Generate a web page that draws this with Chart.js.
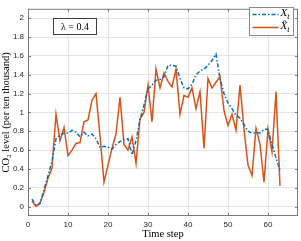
<!DOCTYPE html>
<html>
<head>
<meta charset="utf-8">
<script src="https://cdn.jsdelivr.net/npm/chart.js@4.4.0/dist/chart.umd.min.js"></script>
<style>
html, body { margin: 0; padding: 0; background: #fff; }
#wrap { width: 301px; height: 241px; }
</style>
</head>
<body>
<div id="wrap"><canvas id="co2Chart" width="301" height="241"></canvas></div>
<script>
var timeSteps = [1,2,3,4,5,6,7,8,9,10,11,12,13,14,15,16,17,18,19,20,21,22,23,24,25,26,27,28,29,30,
  31,32,33,34,35,36,37,38,39,40,41,42,43,44,45,46,47,48,49,50,51,52,53,54,55,56,57,58,59,60,61,62,63];

// X_t
var actualLevel = [0.08,0.01,0.03,0.18,0.33,0.48,0.72,0.76,0.78,0.78,
  0.81,0.79,0.74,0.79,0.75,0.77,0.72,0.63,0.64,0.63,
  0.61,0.66,0.69,0.71,0.72,0.55,0.70,0.92,1.08,1.25,
  1.29,1.34,1.35,1.38,1.50,1.50,1.49,1.36,1.26,1.25,
  1.30,1.40,1.44,1.46,1.50,1.55,1.62,1.36,1.20,1.10,
  1.04,0.97,0.94,0.87,0.80,0.78,0.78,0.78,0.82,0.82,
  0.66,0.52,0.38];

// X hat _t
var predictedLevel = [0.06,0.00,0.04,0.15,0.30,0.41,0.98,0.70,0.84,0.54,
  0.60,0.67,0.68,0.90,0.92,1.13,1.20,0.75,0.26,0.44,
  0.62,0.77,1.16,0.66,0.60,0.74,0.46,0.93,1.00,1.29,
  0.90,1.46,1.26,1.42,1.33,1.27,1.46,0.98,1.18,1.16,
  1.26,1.04,1.22,0.62,1.36,1.26,1.32,1.38,1.02,0.86,
  0.98,0.81,1.29,0.82,0.44,0.33,0.83,0.66,0.26,0.82,
  0.58,1.22,0.22];

var xTicks = [0,10,20,30,40,50,60];
var yTicks = [0,0.2,0.4,0.6,0.8,1,1.2,1.4,1.6,1.8,2];
var yTickLabels = ['0','0.2','0.4','0.6','0.8','1','1.2','1.4','1.6','1.8','2'];
var lambdaText = '\u03bb = 0.4';

var blue = '#0072BD';
var orange = '#D95319';

var toPoints = function(vals){
  return timeSteps.map(function(t, i){ return {x: t, y: vals[i]}; });
};

var drawSubLabel = function(ctx, x, y, main, sub){
  ctx.font = 'italic 11px "Liberation Serif"';
  ctx.fillText(main, x, y);
  var w = ctx.measureText('X').width;
  ctx.font = 'italic 8px "Liberation Serif"';
  ctx.fillText(sub, x + w, y + 3);
};

var framePlugin = {
  id: 'frame',
  afterDatasetsDraw: function(chart){
    var ctx = chart.ctx, a = chart.chartArea;
    var xs = chart.scales.x, ys = chart.scales.y;
    ctx.save();
    // axes box
    ctx.strokeStyle = '#7a7a7a';
    ctx.lineWidth = 1;
    ctx.strokeRect(a.left + 0.5, a.top + 0.5, a.right - a.left - 1, a.bottom - a.top - 1);
    // inward ticks on all sides
    ctx.beginPath();
    xTicks.forEach(function(v){
      var px = Math.round(xs.getPixelForValue(v)) + 0.5;
      ctx.moveTo(px, a.bottom); ctx.lineTo(px, a.bottom - 3);
      ctx.moveTo(px, a.top); ctx.lineTo(px, a.top + 3);
    });
    yTicks.forEach(function(v){
      var py = Math.round(ys.getPixelForValue(v)) + 0.5;
      ctx.moveTo(a.left, py); ctx.lineTo(a.left + 3, py);
      ctx.moveTo(a.right, py); ctx.lineTo(a.right - 3, py);
    });
    ctx.stroke();

    // lambda annotation
    ctx.fillStyle = '#fff';
    ctx.fillRect(53.5, 18.5, 43, 16);
    ctx.strokeStyle = '#404040';
    ctx.strokeRect(53.5, 18.5, 43, 16);
    ctx.fillStyle = '#000';
    ctx.font = '10px "Liberation Serif"';
    ctx.textAlign = 'center';
    ctx.textBaseline = 'middle';
    ctx.fillText(lambdaText, 75, 27);

    // legend
    var lx = a.right - 48.5, ly = 7.5, lw = 44, lh = 28;
    ctx.fillStyle = '#fff';
    ctx.fillRect(lx, ly, lw, lh);
    ctx.strokeStyle = '#8a8a8a';
    ctx.strokeRect(lx, ly, lw, lh);
    ctx.lineWidth = 1.5;
    ctx.strokeStyle = blue;
    ctx.setLineDash([4, 2, 1.5, 2]);
    ctx.beginPath(); ctx.moveTo(lx + 3, ly + 7); ctx.lineTo(lx + 29, ly + 7); ctx.stroke();
    ctx.setLineDash([]);
    ctx.strokeStyle = orange;
    ctx.beginPath(); ctx.moveTo(lx + 3, ly + 20); ctx.lineTo(lx + 29, ly + 20); ctx.stroke();
    ctx.fillStyle = '#000';
    ctx.textAlign = 'left';
    ctx.textBaseline = 'middle';
    drawSubLabel(ctx, lx + 31, ly + 6, 'X', 't');
    drawSubLabel(ctx, lx + 31, ly + 19, 'X\u0302', 't');
    ctx.restore();
  }
};

var ctx = document.getElementById('co2Chart').getContext('2d');
var co2Chart = new Chart(ctx, {
  type: 'line',
  data: {
    datasets: [
      {
        label: 'X_t',
        data: toPoints(actualLevel),
        borderColor: blue,
        borderWidth: 1.5,
        borderDash: [4, 2, 1.5, 2],
        pointRadius: 0,
        tension: 0,
        fill: false
      },
      {
        label: 'Xhat_t',
        data: toPoints(predictedLevel),
        borderColor: orange,
        borderWidth: 1.5,
        pointRadius: 0,
        tension: 0,
        fill: false
      }
    ]
  },
  options: {
    responsive: false,
    animation: false,
    devicePixelRatio: 1,
    layout: {padding: {top: 1, right: 3, left: 0, bottom: 0}},
    plugins: {legend: {display: false}, tooltip: {enabled: false}},
    scales: {
      x: {
        type: 'linear',
        min: 0,
        max: 67.5,
        afterBuildTicks: function(scale){ scale.ticks = xTicks.map(function(v){ return {value: v}; }); },
        afterFit: function(scale){ scale.height = 25; },
        grid: {color: '#e4e4e4', drawTicks: false},
        border: {display: false},
        ticks: {
          padding: 4,
          color: '#262626',
          font: {family: '"Liberation Sans"', size: 8},
          maxRotation: 0,
          callback: function(v){ return String(v); }
        },
        title: {
          display: true,
          text: 'Time step',
          color: '#000',
          font: {family: '"Liberation Serif"', size: 10.5},
          padding: {top: 0, bottom: 0}
        }
      },
      y: {
        type: 'linear',
        min: -0.1,
        max: 2.1,
        afterBuildTicks: function(scale){ scale.ticks = yTicks.map(function(v){ return {value: v}; }); },
        afterFit: function(scale){ scale.width = 28; },
        grid: {color: '#e4e4e4', drawTicks: false},
        border: {display: false},
        ticks: {
          padding: 4,
          color: '#262626',
          font: {family: '"Liberation Sans"', size: 8},
          callback: function(v, i){ return yTickLabels[i]; }
        },
        title: {
          display: true,
          text: 'CO\u2082 level (per ten thousand)',
          color: '#000',
          font: {family: '"Liberation Serif"', size: 10.5},
          padding: {top: 0, bottom: 0}
        }
      }
    }
  },
  plugins: [framePlugin]
});
</script>
</body>
</html>
